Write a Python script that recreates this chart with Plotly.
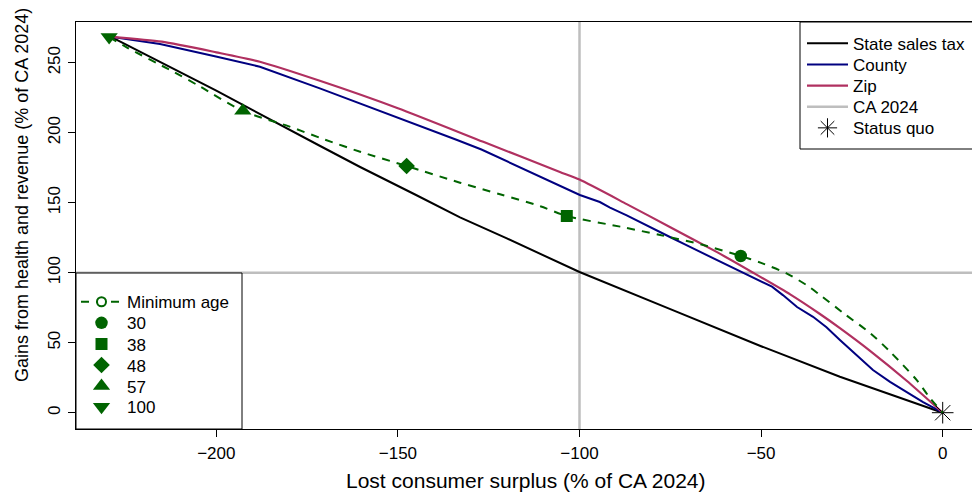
import plotly.graph_objects as go

# ---------------- data ----------------
state_x = [-229, -200, -171.4, -160.4, -145, -132.9, -120, -105.3, -100, -75, -50, -28.3, -15, 0]
state_y = [268.5, 230, 190.5, 175.5, 155.5, 139.5, 124.5, 107, 100.5, 74, 47.5, 25.7, 13.5, 0]

county_x = [-229, -215.5, -199.8, -188, -171.5, -160, -150, -140, -133.7, -127, -121.1, -115.6,
            -110.9, -105.4, -99.9, -94.4, -91.6, -87, -83.3, -79, -75.1, -70.7, -63.2, -57.7,
            -52.2, -47, -44.0, -40.1, -35.7, -32, -28.3, -22.8, -19.2, -14.5, -9.9, -5.4, 0]
county_y = [268.5, 263.4, 254.3, 247.1, 231.7, 220.5, 211, 201.5, 194.8, 188, 181, 174.5,
            168.8, 162, 155.5, 150.5, 146.5, 141, 136, 130.5, 125.5, 119.8, 110.5, 103.4,
            97.0, 90, 84, 75.5, 68.5, 61, 52, 39.1, 30.5, 22.0, 14.8, 7.6, 0]

zip_x = [-229, -215, -200, -188, -171.5, -150, -126.5, -105.4, -100, -87, -75, -62, -52.2,
         -42, -33.8, -28.3, -20, -10, 0]
zip_y = [268.5, 265, 257.4, 250.7, 237.1, 217.5, 193.5, 172, 166.5, 149, 132.5, 114.5, 100,
         84.5, 70.5, 60.4, 44.2, 23, 0]

minage_x = [-229.5, -224.7, -211.8, -204.5, -192.7, -180, -170, -160.4, -147.6, -132.9, -121.9,
            -110.8, -103.5, -88.8, -77.8, -65.9, -55.6, -50, -43, -37.4, -33.8, -27,
            -20, -14.5, -7.2, -3.5, 0]
minage_y = [268.3, 261, 243.5, 233, 215.6, 204.5, 195, 186.4, 176.2, 164.3, 156, 147.5, 140.5,
            132.9, 126.9, 119.8, 111.9, 107, 99.5, 91, 84.1, 70.5, 56.9, 43.6, 23.4,
            10.5, 0]

age_labels = ["30", "38", "48", "57", "100"]
age_x = [-55.6, -103.5, -147.6, -192.7, -229.5]
age_y = [111.9, 140.5, 176.2, 215.6, 268.3]
age_symbols = ["circle", "square", "diamond", "triangle-up", "triangle-down"]
age_sizes = [12.5, 12, 12.8, 15, 15]

ca2024_x = -100
ca2024_y = 100
status_quo_x = [0]
status_quo_y = [0]

x_ticks = [-200, -150, -100, -50, 0]
x_ticktext = ["\u2212200", "\u2212150", "\u2212100", "\u221250", "0"]
y_ticks = [0, 50, 100, 150, 200, 250]

FONT = "Liberation Sans"
GREEN = "#006400"
GRAY = "#BEBEBE"

W, H = 972, 494
ML, MR, MT, MB = 76, 0, 22, 65
PW, PH = W - ML - MR, H - MT - MB


def px2paper_x(px):
    return (px - ML) / PW


def px2paper_y(py):
    return (H - MB - py) / PH


# legend entry layout (pixel centres of each entry row)
leg1_rows = [43.3, 64.5, 85.6, 106.7, 127.8]
leg2_rows = [301.7, 322.8, 343.9, 365.0, 386.0, 406.7]
leg1_text_x = 853
leg2_text_x = 127
ITEMW = 41
LEG_FONT = 17
ROW_OFF = 17.5

fig = go.Figure()

legend_layouts = {}
counter = [0]


def next_legend(text_x, row_center):
    counter[0] += 1
    name = "legend" if counter[0] == 1 else "legend%d" % counter[0]
    legend_layouts[name] = dict(
        x=px2paper_x(text_x - ITEMW - 10), y=px2paper_y(row_center - ROW_OFF),
        xanchor="left", yanchor="top", bgcolor="rgba(0,0,0,0)", borderwidth=0,
        font=dict(size=LEG_FONT, family=FONT), itemwidth=ITEMW)
    return name


# main curves (legend 1)
fig.add_trace(go.Scatter(x=state_x, y=state_y, mode="lines", name="State sales tax",
                         line=dict(color="black", width=2),
                         legend=next_legend(leg1_text_x, leg1_rows[0])))
fig.add_trace(go.Scatter(x=county_x, y=county_y, mode="lines", name="County",
                         line=dict(color="#000080", width=2),
                         legend=next_legend(leg1_text_x, leg1_rows[1])))
fig.add_trace(go.Scatter(x=zip_x, y=zip_y, mode="lines", name="Zip",
                         line=dict(color="#B03060", width=2.2, shape="spline", smoothing=0.6),
                         legend=next_legend(leg1_text_x, leg1_rows[2])))
fig.add_trace(go.Scatter(x=[None], y=[None], mode="lines", name="CA 2024",
                         line=dict(color=GRAY, width=2.5),
                         legend=next_legend(leg1_text_x, leg1_rows[3])))
fig.add_trace(go.Scatter(x=status_quo_x, y=status_quo_y, mode="markers", name="Status quo",
                         marker=dict(symbol="asterisk-open", size=18, color="black",
                                     line=dict(color="black", width=1)),
                         legend=next_legend(leg1_text_x, leg1_rows[4])))

# minimum age (legend 2)
fig.add_trace(go.Scatter(x=[None], y=[None], mode="lines+markers", name="Minimum age",
                         line=dict(color=GREEN, width=2, dash="8px,7px"),
                         marker=dict(symbol="circle", size=9, color="white",
                                     line=dict(color=GREEN, width=2)),
                         legend=next_legend(leg2_text_x, leg2_rows[0])))
fig.add_trace(go.Scatter(x=minage_x, y=minage_y, mode="lines", showlegend=False,
                         line=dict(color=GREEN, width=2, dash="8px,7px", shape="spline",
                                   smoothing=0.8),
                         hoverinfo="skip"))
for i, (lab, xx, yy, sym, sz) in enumerate(zip(age_labels, age_x, age_y, age_symbols,
                                               age_sizes)):
    fig.add_trace(go.Scatter(x=[xx], y=[yy], mode="markers", name=lab,
                             marker=dict(symbol=sym, size=sz, color=GREEN, line=dict(width=0)),
                             legend=next_legend(leg2_text_x, leg2_rows[i + 1])))

# reference lines CA 2024
fig.add_shape(type="line", xref="x", yref="paper", x0=ca2024_x, x1=ca2024_x, y0=0, y1=1,
              line=dict(color=GRAY, width=2.5), layer="below")
fig.add_shape(type="line", xref="paper", yref="y", x0=0, x1=1, y0=ca2024_y, y1=ca2024_y,
              line=dict(color=GRAY, width=2.5), layer="below")

# legend boxes
fig.add_shape(type="rect", xref="paper", yref="paper",
              x0=px2paper_x(800), x1=px2paper_x(990), y0=px2paper_y(149), y1=1,
              line=dict(color="black", width=1), fillcolor="white", layer="above")
fig.add_shape(type="rect", xref="paper", yref="paper",
              x0=0, x1=px2paper_x(242), y0=0, y1=px2paper_y(273),
              line=dict(color="black", width=1), fillcolor="white", layer="above")

fig.update_layout(
    width=W, height=H,
    margin=dict(l=ML, r=MR, t=MT, b=MB, pad=0),
    paper_bgcolor="white", plot_bgcolor="white",
    font=dict(family=FONT, size=17, color="black"),
    xaxis=dict(range=[(ML - 942.7) / 3.632, (W - 942.7) / 3.632], tickvals=x_ticks,
               ticktext=x_ticktext, ticks="outside", ticklen=7, tickwidth=1, tickcolor="black",
               showline=True, linecolor="black", linewidth=1, mirror=True, showgrid=False,
               zeroline=False, tickfont=dict(size=17), ticklabelstandoff=2),
    yaxis=dict(range=[(412.7 - (H - MB)) / 1.4, (412.7 - MT) / 1.4], tickvals=y_ticks,
               ticks="outside", ticklen=7, tickwidth=1, tickcolor="black", tickangle=-90,
               showline=True, linecolor="black", linewidth=1, showgrid=False, zeroline=False,
               tickfont=dict(size=17), ticklabelstandoff=1),
    showlegend=True,
    annotations=[
        dict(text="Lost consumer surplus (% of CA 2024)", xref="paper", yref="paper",
             x=px2paper_x(526), y=px2paper_y(480), xanchor="center", yanchor="middle",
             showarrow=False, font=dict(size=21, family=FONT)),
        dict(text="Gains from health and revenue (% of CA 2024)", xref="paper", yref="paper",
             x=px2paper_x(22), y=px2paper_y(195), xanchor="center", yanchor="middle",
             textangle=-90, showarrow=False, font=dict(size=18, family=FONT)),
    ],
)
fig.update_layout(**legend_layouts)

fig.write_html("out.html")
